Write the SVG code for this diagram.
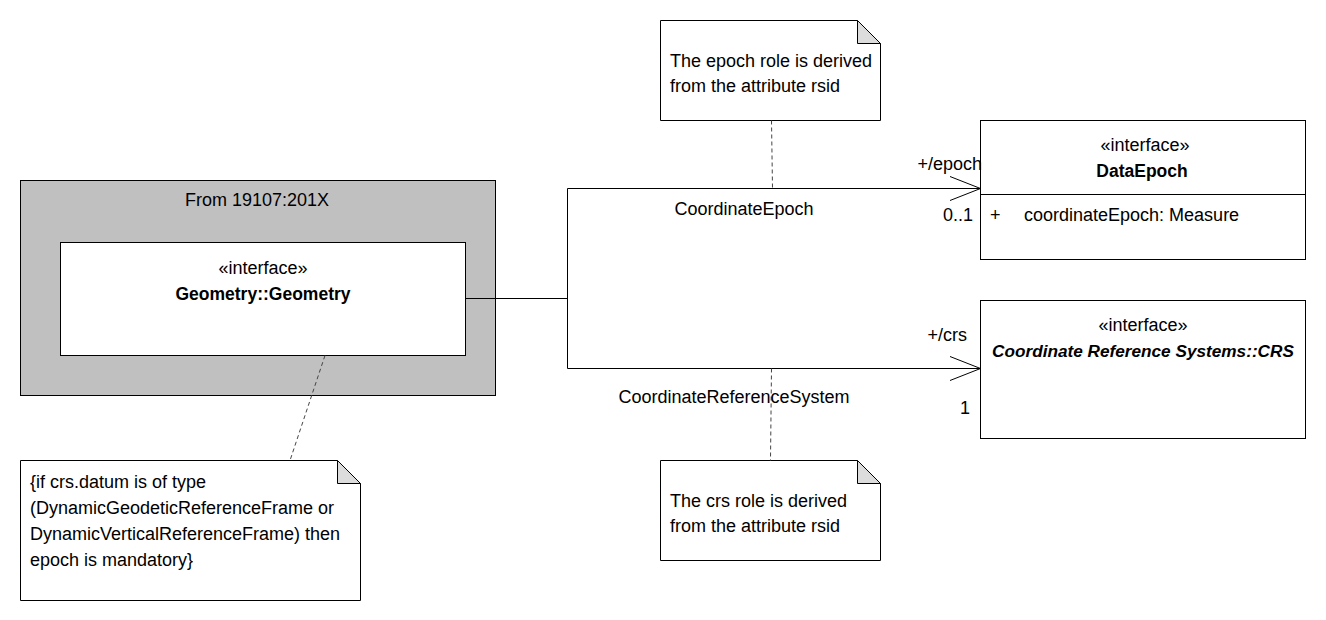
<svg xmlns="http://www.w3.org/2000/svg" width="1326" height="620" viewBox="0 0 1326 620">
<defs>
<style>
text{font-family:"Liberation Sans",Arial,sans-serif;font-size:18px;fill:#000}
.c{text-anchor:middle}
.r{text-anchor:end}
.b{font-weight:bold;font-size:17.5px}
.bi{font-weight:bold;font-style:italic;font-size:17.2px}
.box{fill:#fff;stroke:#000;stroke-width:1}
.pkg{fill:#c0c0c0;stroke:#000;stroke-width:1}
.fold{fill:#dcdcdc;stroke:#000;stroke-width:1}
.ln{fill:none;stroke:#000;stroke-width:1}
.dash{fill:none;stroke:#444;stroke-width:1;stroke-dasharray:4,3}
</style>
</defs>
<rect width="1326" height="620" fill="#fff"/>
<g id="pkg19107">
<rect class="pkg" x="20.5" y="180.5" width="475" height="215"/>
<text class="c" x="257" y="206">From 19107:201X</text>
</g>
<g id="geometry">
<rect class="box" x="60.5" y="242.5" width="405" height="113"/>
<text class="c" x="263" y="274">«interface»</text>
<text class="c b" x="263" y="300">Geometry::Geometry</text>
</g>
<g id="dataEpoch">
<rect class="box" x="980.5" y="120.5" width="325" height="139"/>
<line class="ln" x1="980.5" y1="194.5" x2="1305.5" y2="194.5"/>
<text class="c" x="1145" y="151">«interface»</text>
<text class="c b" x="1142" y="177">DataEpoch</text>
<text x="990" y="221">+</text>
<text x="1024" y="221">coordinateEpoch: Measure</text>
</g>
<g id="crs">
<rect class="box" x="980.5" y="300.5" width="325" height="138"/>
<text class="c" x="1143" y="331">«interface»</text>
<text class="c bi" x="1143" y="357">Coordinate Reference Systems::CRS</text>
</g>
<g id="noteEpoch">
<path class="box" d="M660.5,20.5 H857.5 L880.5,43.5 V120.5 H660.5 Z"/>
<path class="fold" d="M857.5,20.5 V43.5 H880.5 Z"/>
<text x="670" y="67">The epoch role is derived</text>
<text x="670" y="92">from the attribute rsid</text>
</g>
<g id="noteCrs">
<path class="box" d="M660.5,460.5 H857.5 L880.5,483.5 V560.5 H660.5 Z"/>
<path class="fold" d="M857.5,460.5 V483.5 H880.5 Z"/>
<text x="670" y="507">The crs role is derived</text>
<text x="670" y="532">from the attribute rsid</text>
</g>
<g id="noteConstraint">
<path class="box" d="M20.5,460.5 H337.5 L360.5,483.5 V600.5 H20.5 Z"/>
<path class="fold" d="M337.5,460.5 V483.5 H360.5 Z"/>
<text x="30" y="488">{if crs.datum is of type</text>
<text x="30" y="514">(DynamicGeodeticReferenceFrame or</text>
<text x="30" y="540">DynamicVerticalReferenceFrame) then</text>
<text x="30" y="566">epoch is mandatory}</text>
</g>
<g id="connectors">
<polyline class="ln" points="465.5,298.5 567.5,298.5"/>
<line class="ln" x1="567.5" y1="188.5" x2="567.5" y2="368.5"/>
<line class="ln" x1="567.5" y1="188.5" x2="980.5" y2="188.5"/>
<polyline class="ln" points="950,176.5 980.5,188.5 950,200.5"/>
<line class="ln" x1="567.5" y1="368.5" x2="980.5" y2="368.5"/>
<polyline class="ln" points="950,356.5 980.5,368.5 950,380.5"/>
<line class="dash" x1="771.5" y1="120.5" x2="772.5" y2="188.5"/>
<line class="dash" x1="771.5" y1="368.5" x2="770.5" y2="460.5"/>
<line class="dash" x1="325" y1="355.5" x2="290" y2="460.5"/>
<text class="r" x="982" y="170">+/epoch</text>
<text class="r" x="973" y="221">0..1</text>
<text class="c" x="744" y="215">CoordinateEpoch</text>
<text class="r" x="967" y="341">+/crs</text>
<text class="r" x="970" y="414">1</text>
<text class="c" x="734" y="403">CoordinateReferenceSystem</text>
</g>
</svg>
